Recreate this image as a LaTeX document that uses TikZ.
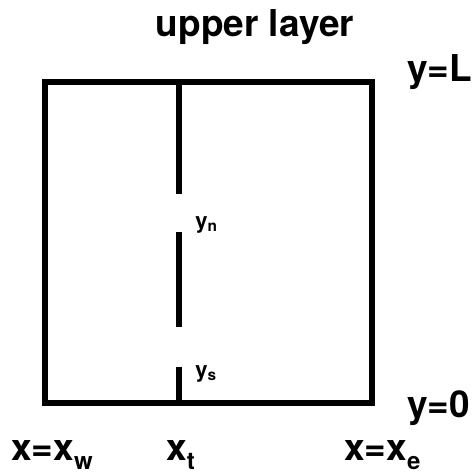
\documentclass[tikz,border=0pt]{standalone}
\usepackage{fontspec}
\setmainfont{TeX Gyre Heros}
\usepackage{tikz}
\usetikzlibrary{positioning}

%% subscript set well below the baseline
\newcommand{\lowsub}[1]{\raisebox{-4.5pt}{\fontsize{12}{12}\selectfont #1}}

\tikzset{
  %%── walls of the layer ─────────────────────────────
  wall/.style  = {line width = 2.6pt, line join = miter, color = black},
  split/.style = {line width = 2.6pt, line cap = butt, color = black},
  %%── labels ─────────────────────────────────────────
  biglbl/.style   = {font = \fontsize{18.5}{22}\selectfont\bfseries,
                     inner sep = 0pt, anchor = base west},
  smalllbl/.style = {font = \fontsize{11}{13}\selectfont\bfseries,
                     inner sep = 0pt, anchor = base west},
}

\begin{document}
\begin{tikzpicture}[x = 0.5pt, y = -0.5pt]

  \useasboundingbox (0,0) rectangle (473,476);

  %% ── outer box ──────────────────────────────────────
  \coordinate (boxNW) at (45,82);
  \coordinate (boxSE) at (372,403);
  \draw[wall] (boxNW) rectangle (boxSE);

  %% ── partition at x_t (three pieces) ───────────────
  \coordinate (tTop)  at (179,82);
  \coordinate (tN)    at (179,194);
  \coordinate (tMidA) at (179,232);
  \coordinate (tMidB) at (179,327);
  \coordinate (tS)    at (179,367);
  \coordinate (tBot)  at (179,403);
  \draw[split] (tTop)  -- (tN);
  \draw[split] (tMidA) -- (tMidB);
  \draw[split] (tS)    -- (tBot);

  %% ── labels ─────────────────────────────────────────
  \node[biglbl, anchor = base] (lblUpper) at (255,37) {upper layer};
  \node[biglbl] (lblYL) at (407,82)  {y=L};
  \node[biglbl] (lblY0) at (407,417) {y=0};
  \node[biglbl] (lblXw) at (11,460)  {x=x\lowsub{w}};
  \node[biglbl] (lblXt) at (166,460) {x\lowsub{t}};
  \node[biglbl] (lblXe) at (344,460) {x=x\lowsub{e}};

  \node[smalllbl] (lblYn) at (195,228) {y\textsubscript{n}};
  \node[smalllbl] (lblYs) at (195,377) {y\textsubscript{s}};

\end{tikzpicture}
\end{document}
